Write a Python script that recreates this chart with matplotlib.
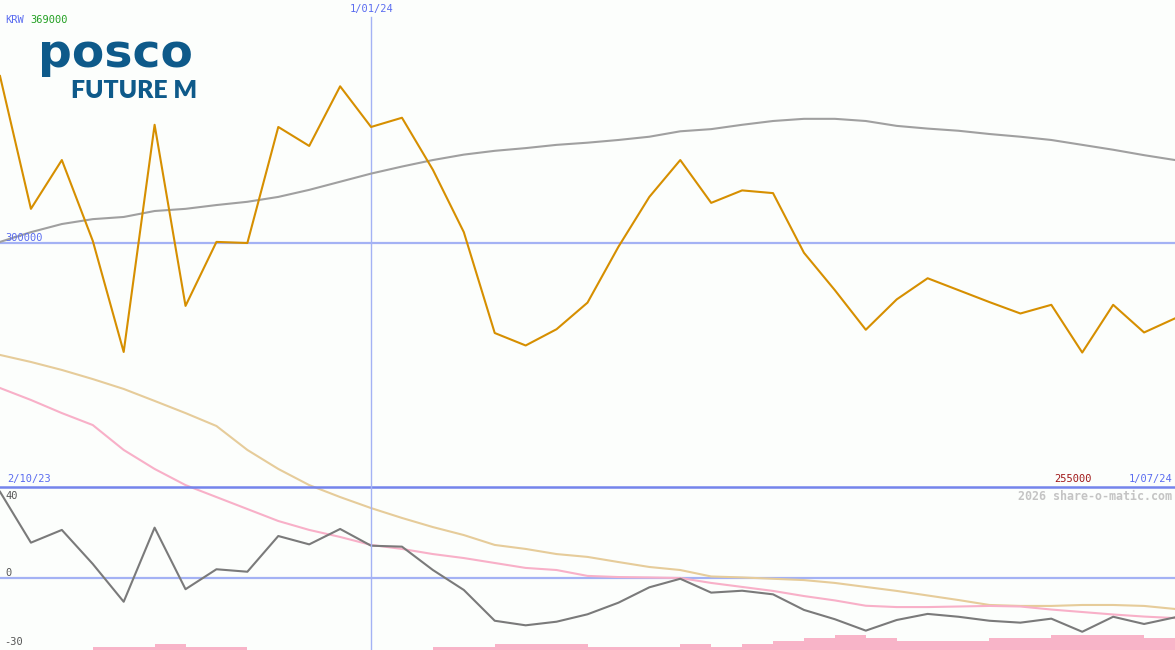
import matplotlib
matplotlib.use("Agg")
import matplotlib.pyplot as plt
import numpy as np

# ---------------- data (weekly, 2/10/23 .. 1/07/24) ----------------
price = [330800, 306300, 315300, 300400, 279900, 321800, 288400, 300200, 300000,
         321400, 317900, 328900, 321400, 323100, 313500, 302000, 283400, 281100,
         284100, 289000, 299300, 308500, 315300, 307400, 309700, 309200, 298200,
         291300, 284000, 289600, 293500, 291300, 289100, 287000, 288600, 279800,
         288600, 283500, 286100]
price_ma = [300200, 302000, 303500, 304400, 304800, 305900, 306300, 307000, 307600,
            308500, 309800, 311300, 312800, 314100, 315300, 316300, 317000, 317500,
            318100, 318500, 319000, 319600, 320600, 321000, 321800, 322500, 322900,
            322900, 322500, 321600, 321100, 320700, 320100, 319600, 319000, 318100,
            317200, 316200, 315300]
momentum = [45.4, 18.6, 25.3, 7.4, -12.5, 26.5, -5.9, 4.6, 3.3, 22.1, 17.7, 25.8,
            17.0, 16.5, 4.2, -6.3, -22.5, -24.9, -23.0, -19.1, -13.0, -4.9, -0.4,
            -7.7, -6.7, -8.6, -16.8, -21.7, -27.7, -22.1, -18.9, -20.4, -22.5,
            -23.5, -21.4, -28.3, -20.4, -24.2, -20.7]
signal_fast = [100.0, 93.7, 86.8, 80.5, 67.4, 57.4, 48.9, 42.6, 36.3, 30.0, 25.3,
               21.6, 17.4, 15.3, 12.6, 10.5, 7.9, 5.3, 4.2, 1.1, 0.5, 0.3, 0.0,
               -2.6, -4.7, -6.8, -9.5, -11.8, -14.6, -15.3, -15.3, -15.0, -14.7,
               -15.0, -16.6, -17.9, -19.2, -20.3, -21.1]
signal_slow = [117.4, 113.7, 109.5, 104.7, 99.5, 93.2, 86.8, 80.0, 67.4, 57.4, 48.9,
               42.6, 36.8, 31.6, 26.8, 22.6, 17.4, 15.3, 12.6, 11.1, 8.4, 5.8, 4.2,
               0.8, 0.3, -0.4, -1.1, -2.6, -4.7, -6.8, -9.2, -11.6, -14.2, -14.7,
               -14.7, -14.2, -14.2, -14.7, -16.3]
volume = [0, 0, 0, 1, 1, 2, 1, 1, 0, 0, 0, 0, 0, 0, 1, 1, 2, 2, 2, 1, 1, 1, 2, 1,
          2, 3, 4, 5, 4, 3, 3, 3, 4, 4, 5, 5, 5, 4]
date_labels = ["2/10/23", "1/01/24", "1/07/24"]
marker_week = 12
price_grid = 300000
price_hi, price_lo = 369000, 255000
osc_ticks = [40, 0, -30]

# ---------------- styling ----------------
W, H = 1175, 650
BG = "#fcfefc"
C_PRICE = "#d68f00"
C_MA = "#a0a0a0"
C_MOM = "#7a7a7a"
C_FAST = "#f8b0c8"
C_SLOW = "#e6cc9a"
C_LBLUE = "#a4b2f4"
C_DBLUE = "#7484ec"
C_TXT = "#5a6cf0"
C_LOGO = "#0e5a8a"
MONO = "DejaVu Sans Mono"

fig = plt.figure(figsize=(W / 100, H / 100), dpi=100, facecolor=BG)

def make_ax(zorder):
    a = fig.add_axes([0, 0, 1, 1], zorder=zorder)
    a.set_xlim(0, len(price) - 1)
    a.patch.set_visible(False)
    a.axis("off")
    return a

n = len(price)
x = np.arange(n)

# pixel scales (row -> value)
k_price = 45000 / 244.0          # price per pixel
p_top = price_grid + 243 * k_price
p_bot = price_grid - (H - 243) * k_price
k_osc = 1.9                      # pixels per oscillator unit
o_top = 578 / k_osc
o_bot = -(H - 578) / k_osc

axv = make_ax(1)
axv.set_ylim(0, H / 3.0)
axv.bar(np.arange(len(volume)), volume, width=1.0, align="edge",
        color="#f8b4c8", linewidth=0)

axo = make_ax(2)
axo.set_ylim(o_bot, o_top)
axo.axhline(0, color=C_LBLUE, lw=1.6)
axo.plot(x, signal_slow, color=C_SLOW, lw=1.5)
axo.plot(x, signal_fast, color=C_FAST, lw=1.5)
axo.plot(x, momentum, color=C_MOM, lw=1.5)

axp = make_ax(3)
axp.set_ylim(p_bot, p_top)
axp.axhline(price_grid, color=C_LBLUE, lw=1.6)
axp.axhline(price_grid - 244 * k_price, color=C_DBLUE, lw=1.8)
axp.plot([marker_week, marker_week], [p_top - 17 * k_price, p_bot],
         color=C_LBLUE, lw=1.0)
axp.plot(x, price_ma, color=C_MA, lw=1.5)
axp.plot(x, price, color=C_PRICE, lw=1.5)

# ---------------- text ----------------
def px(xp, yp, s, color, size=7.5, ha="left", weight="normal", family=MONO):
    fig.text(xp / W, 1 - yp / H, s, color=color, fontsize=size, ha=ha,
             va="center", family=family, fontweight=weight)

px(5, 20, "KRW", C_TXT)
px(30, 20, f"{price_hi}", "#22a022")
px(372, 9, date_labels[1], C_TXT, ha="center")
px(5, 238, f"{price_grid}", C_TXT)
px(7, 479, date_labels[0], C_TXT)
px(1092, 479, f"{price_lo}", "#a01818", ha="right")
px(1172, 479, date_labels[2], C_TXT, ha="right")
px(1172, 496, "2026 share-o-matic.com", "#c4c4c4", size=8.4, ha="right",
   weight="bold")
px(5, 496, f"{osc_ticks[0]}", "#555555")
px(5, 573, f"{osc_ticks[1]}", "#555555")
px(4, 642, f"{osc_ticks[2]}", "#555555")

# logo
fig.text(38 / W, 1 - 67 / H, "posco", color=C_LOGO, fontsize=34,
         family="DejaVu Sans", fontweight="bold", va="baseline", ha="left")
fig.text(71 / W, 1 - 98 / H, "FUTURE M", color=C_LOGO, fontsize=17.8,
         family="Lato", fontweight="heavy", va="baseline", ha="left")

fig.savefig("out.png", dpi=100, facecolor=BG)
